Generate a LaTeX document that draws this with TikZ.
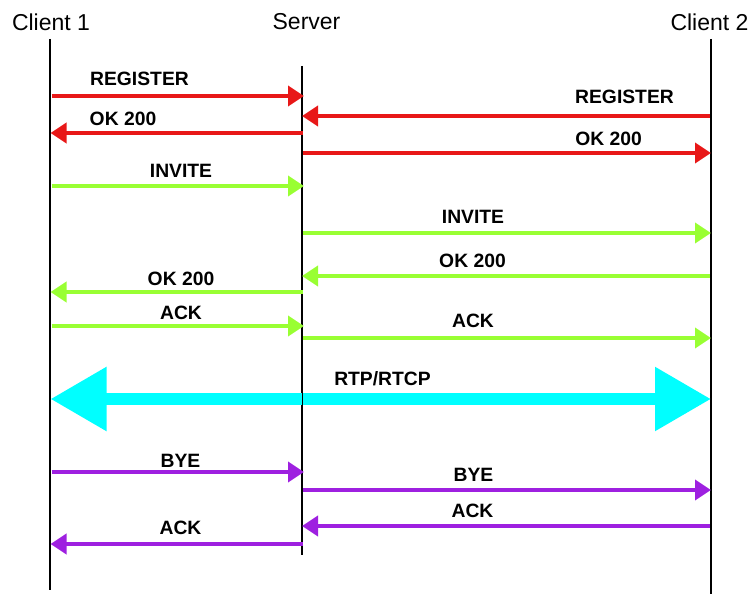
\documentclass[tikz,border=0pt]{standalone}
\usepackage{fontspec}
\setmainfont{Liberation Sans}
\usetikzlibrary{arrows.meta}
\definecolor{sipred}{RGB}{232,24,24}
\definecolor{sipgreen}{RGB}{153,255,51}
\definecolor{sipcyan}{RGB}{0,255,255}
\definecolor{sippurple}{RGB}{158,32,224}
\tikzset{
  lifeline/.style={line width=2.6pt, black},
  msg/.style={line width=3.6pt, -{Triangle[length=16pt,width=20pt]}, shorten >=-1pt},
  hdr/.style={font=\fontsize{23}{25}\selectfont, inner sep=0pt, anchor=center},
  lbl/.style={font=\fontsize{19.3}{21}\selectfont\bfseries, inner sep=0pt, anchor=center, text=black},
}
\begin{document}
\begin{tikzpicture}[x=1pt,y=-1pt]
\useasboundingbox (0,0) rectangle (752,594);
% headers
\node[hdr] (h1) at (51,22) {Client 1};
\node[hdr] (hs) at (306.5,22) {Server};
\node[hdr] (h2) at (709.5,22) {Client 2};
% lifelines
\coordinate (c1top) at (50,39);  \coordinate (c1bot) at (50,590);
\coordinate (stop)  at (302,66); \coordinate (sbot)  at (302,555);
\coordinate (c2top) at (711,39); \coordinate (c2bot) at (711,596);
\draw[lifeline] (c1top) -- (c1bot);
\draw[lifeline] (stop) -- (sbot);
\draw[lifeline] (c2top) -- (c2bot);
% message end points
\foreach \n/\y in {a/96,b/116,c/133,d/153,e/186,f/233,g/276,h/292,i/326,j/338,k/399,l/472,m/490,n/526,o/544}{
  \coordinate (c1\n) at (51.5,\y);
  \coordinate (s\n) at (303,\y);
  \coordinate (c2\n) at (710,\y);
}
% REGISTER / OK 200
\draw[msg, sipred] (c1a) -- (sa);
\draw[msg, sipred] (c2b) -- (sb);
\draw[msg, sipred] (sc) -- (c1c);
\draw[msg, sipred] (sd) -- (c2d);
\node[lbl] (t1) at (139.5,79) {REGISTER};
\node[lbl] (t2) at (624.5,97) {REGISTER};
\node[lbl] (t3) at (123,119) {OK 200};
\node[lbl] (t4) at (608.5,139) {OK 200};
% INVITE / OK / ACK
\draw[msg, sipgreen] (c1e) -- (se);
\draw[msg, sipgreen] (sf) -- (c2f);
\draw[msg, sipgreen] (c2g) -- (sg);
\draw[msg, sipgreen] (sh) -- (c1h);
\draw[msg, sipgreen] (c1i) -- (si);
\draw[msg, sipgreen] (sj) -- (c2j);
\node[lbl] (t5) at (181,171) {INVITE};
\node[lbl] (t6) at (473,217) {INVITE};
\node[lbl] (t7) at (472.5,261) {OK 200};
\node[lbl] (t8) at (181,279) {OK 200};
\node[lbl] (t9) at (181,313) {ACK};
\node[lbl] (t10) at (473,321) {ACK};
% RTP/RTCP
\draw[sipcyan, line width=12pt, {Triangle[length=56pt,width=61pt]}-{Triangle[length=56pt,width=61pt]}, shorten <=-1pt, shorten >=-1pt] (c1k) -- (c2k);
\draw[black, line width=1pt] (302,392) -- (302,406);
\node[lbl] (t11) at (382.5,379) {RTP/RTCP};
% BYE / ACK
\draw[msg, sippurple] (c1l) -- (sl);
\draw[msg, sippurple] (sm) -- (c2m);
\draw[msg, sippurple] (c2n) -- (sn);
\draw[msg, sippurple] (so) -- (c1o);
\node[lbl] (t12) at (180.5,461) {BYE};
\node[lbl] (t13) at (473.5,475) {BYE};
\node[lbl] (t14) at (472.5,511) {ACK};
\node[lbl] (t15) at (180.5,528) {ACK};
\end{tikzpicture}
\end{document}
